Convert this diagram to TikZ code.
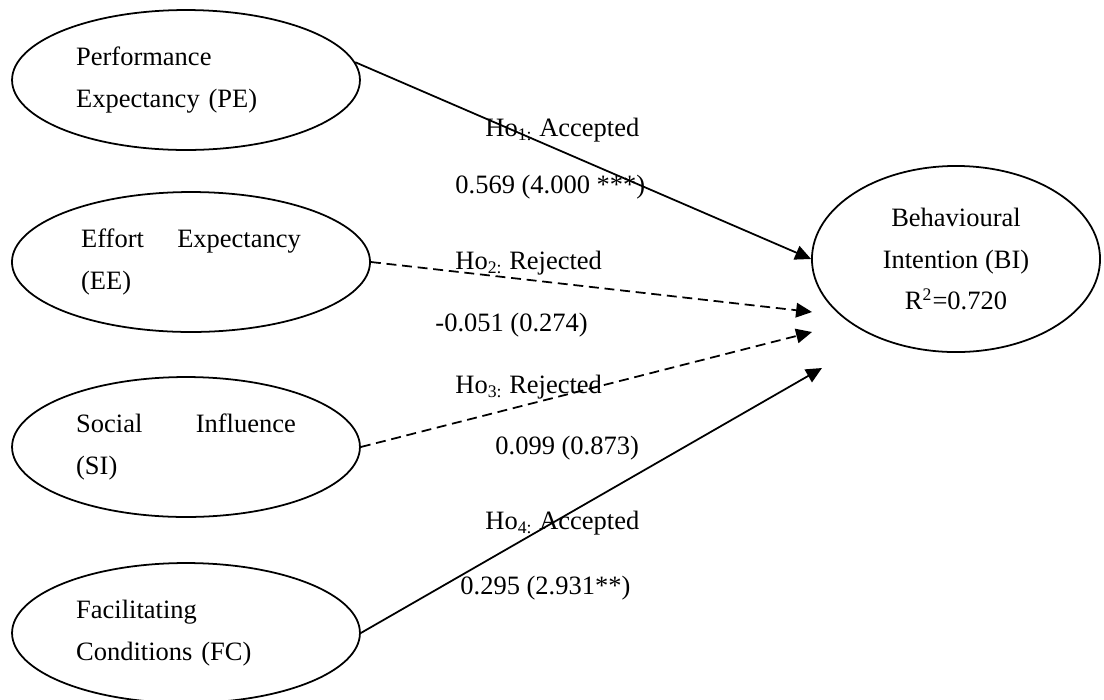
\documentclass[tikz,border=0pt]{standalone}
\usepackage{fontspec}
\setmainfont{Liberation Serif}
\usetikzlibrary{shapes.geometric}
\usetikzlibrary{arrows.meta}
\tikzstyle{construct} = [ellipse, draw, line width=0.8pt, inner sep=0pt,
                         minimum width=157.6pt, minimum height=63.4pt,
                         text width=99.5pt, align=left,
                         font=\fontsize{12}{19}\selectfont]
\tikzstyle{outcome} = [ellipse, draw, line width=0.8pt, inner sep=0pt,
                       minimum width=130.5pt, minimum height=84.3pt, align=center,
                       font=\fontsize{12}{19}\selectfont]
\tikzstyle{hypo} = [anchor=west, inner sep=0pt, font=\fontsize{12}{14}\selectfont]
\tikzstyle{accepted} = [line width=0.8pt, -{Triangle[length=7.2pt,width=6.6pt]}]
\tikzstyle{rejected} = [accepted, dash pattern=on 4.5pt off 2.6pt]

\begin{document}
\begin{tikzpicture}[x=0.453pt,y=-0.453pt]
    \useasboundingbox (0,0) rectangle (1104,699);
    \node[construct] (pe) at (186,80) {Performance\\Expectancy (PE)};
    \node[construct, minimum width=162.2pt] (ee) at (191,262) {Effort\hfill Expectancy\\(EE)};
    \node[construct] (si) at (186,447) {Social\hfill Influence\\(SI)};
    \node[construct] (fc) at (186,633) {Facilitating\\Conditions (FC)};
    \node[outcome] (bi) at (956,259) {Behavioural\\Intention (BI)\\R\textsuperscript{2}=0.720};
    % free ends of the arrows that stop short of BI
    \coordinate (tipee) at (812,312);
    \coordinate (tipsi) at (812,332);
    \coordinate (tipfc) at (822,368);
    \draw[accepted] (pe.6) -- (bi.west);
    \draw[rejected] (ee.east) -- (tipee);
    \draw[rejected] (si.east) -- (tipsi);
    \draw[accepted] (fc.east) -- (tipfc);
    % hypothesis labels
    \node[hypo] (h1) at (485,130) {Ho\textsubscript{1:} Accepted};
    \node[hypo] (c1) at (455,187) {0.569 (4.000 ***)};
    \node[hypo] (h2) at (455,263) {Ho\textsubscript{2:} Rejected};
    \node[hypo] (c2) at (435,325) {-0.051 (0.274)};
    \node[hypo] (h3) at (455,387) {Ho\textsubscript{3:} Rejected};
    \node[hypo] (c3) at (495,448) {0.099 (0.873)};
    \node[hypo] (h4) at (485,523) {Ho\textsubscript{4:} Accepted};
    \node[hypo] (c4) at (460,588) {0.295 (2.931**)};
\end{tikzpicture}
\end{document}
